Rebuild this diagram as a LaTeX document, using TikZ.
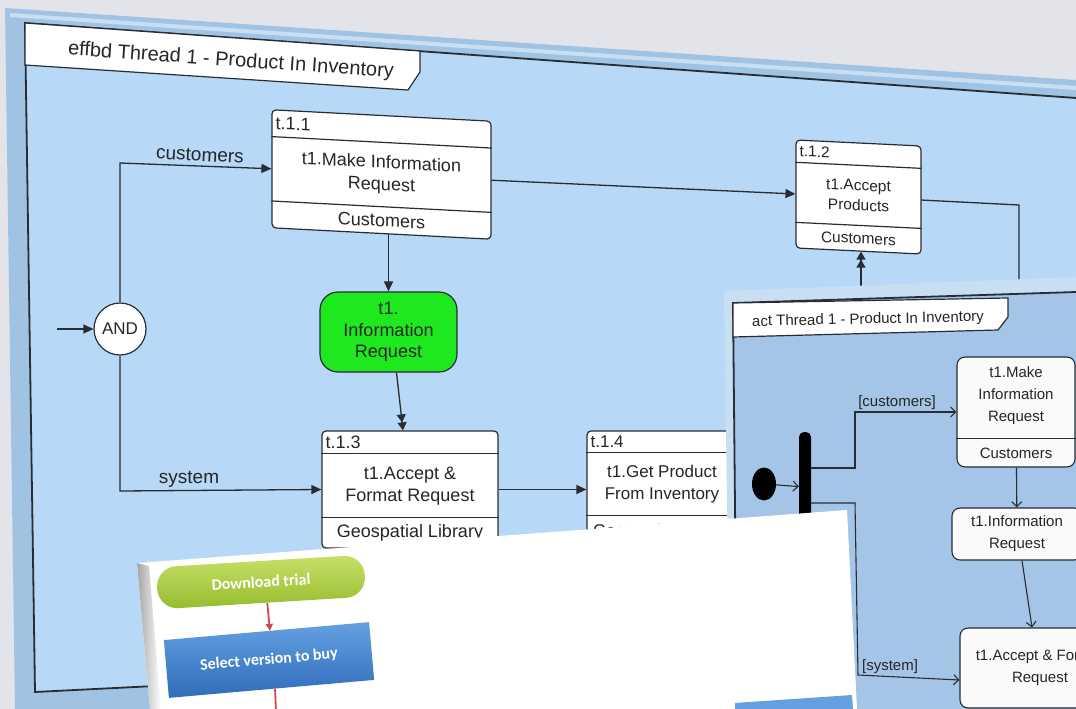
\documentclass[tikz,border=0pt]{standalone}
\usepackage{fontspec}
\setmainfont{Liberation Sans}
\newfontfamily\slidefont{Carlito}
\usetikzlibrary{arrows.meta,calc,shapes.geometric}

\definecolor{deskgray}{RGB}{226,228,233}
\definecolor{framebl}{RGB}{160,195,228}
\definecolor{framehi}{RGB}{200,223,243}
\definecolor{effbdbl}{RGB}{183,216,246}
\definecolor{actbl}{RGB}{164,197,231}
\definecolor{inkgray}{RGB}{40,44,52}
\definecolor{taskgreen}{RGB}{30,232,30}
\definecolor{pillgreenA}{RGB}{200,225,105}
\definecolor{pillgreenB}{RGB}{148,188,45}
\definecolor{slideblA}{RGB}{100,160,225}
\definecolor{slideblB}{RGB}{48,108,185}
\definecolor{arrowred}{RGB}{205,75,75}

\newcommand\fsz[2]{\fontsize{#1}{#2}\selectfont}

\tikzset{
  panel/.style={draw=inkgray, line width=1.8pt},
  tab/.style={fill=white, draw=inkgray, line width=1.2pt},
  taskbox/.style={draw=inkgray, fill=white, line width=1.2pt, rounded corners=4pt, inner sep=0pt},
  sepline/.style={draw=inkgray, line width=1.2pt},
  txt/.style={inner sep=0pt, align=center, text=black!85},
  flow/.style={draw=inkgray, line width=1.3pt, -{Triangle[length=10pt,width=9pt]}},
  dflow/.style={draw=inkgray, line width=1.3pt, -{Triangle[length=8pt,width=9pt]Triangle[length=8pt,width=9pt]}},
  plain/.style={draw=inkgray, line width=1.3pt},
  actflow/.style={draw=inkgray, line width=1.1pt, -{Straight Barb[length=5pt,width=10pt]}},
  actbox/.style={draw=inkgray, fill=white!96!gray, line width=1.1pt, rounded corners=8pt, inner sep=0pt, txt, font=\fsz{15}{22}},
  slidebox/.style={inner sep=0pt, text=white, font=\slidefont\bfseries\fsz{16}{19}},
  redflow/.style={draw=arrowred, line width=1.8pt, -{Triangle[length=7pt,width=7pt]}},
}

\begin{document}
\begin{tikzpicture}[x=1pt,y=-1pt]
  \useasboundingbox (0,0) rectangle (1076,709);
  \clip (0,0) rectangle (1076,709);
  \fill[deskgray] (0,0) rectangle (1076,709);

  % one task box: separators and its three rows of text
  \def\taskrows#1#2#3#4#5#6#7#8{%
    \pgfmathsetmacro\rowid{#3/2}%
    \pgfmathsetmacro\rowname{(#3+#4)/2}%
    \pgfmathsetmacro\rowres{(#4+1)/2}%
    \draw[sepline] ($(#1.north west)!#3!(#1.south west)$) -- ($(#1.north east)!#3!(#1.south east)$);
    \draw[sepline] ($(#1.north west)!#4!(#1.south west)$) -- ($(#1.north east)!#4!(#1.south east)$);
    \node[txt, font=#8, yslant=#2, anchor=west] (#1id) at ($(#1.north west)!\rowid!(#1.south west)+(4,0)$) {#5};
    \node[txt, font=#8, yslant=#2] (#1name) at ($(#1.north)!\rowname!(#1.south)$) {#6};
    \node[txt, font=#8, yslant=#2] (#1res) at ($(#1.north)!\rowres!(#1.south)$) {#7};
  }

  % effbd window
  \fill[framebl] (5,8) -- (1076,80) -- (1076,709) -- (15,709) -- cycle;
  \draw[framehi, line width=4pt] (10,15) -- (1076,88);
  \fill[effbdbl] (25,23) -- (1076,98) -- (1076,640) -- (35,692) -- cycle;
  \draw[panel] (1076,98) -- (25,23) -- (35,692) -- (1076,640);
  \draw[tab] (25,23) -- (420,51) -- (420,72) -- (408,90) -- (25,65) -- cycle;
  \node[txt, font=\fsz{20}{24}, rotate=-4] (effbdtitle) at (231,61) {effbd Thread 1 - Product In Inventory};

  \node[circle, draw=inkgray, fill=white, line width=1.2pt, minimum size=52, inner sep=0pt, txt, font=\fsz{17}{20}] (and) at (120,329) {AND};
  \coordinate (entry) at (57,329);
  \coordinate (custbend) at (120,163);
  \coordinate (sysbend) at (120,491);

  \node[taskbox, yslant=-.052, minimum width=219, minimum height=118] (t11) at (381.5,174.5) {};
  \taskrows{t11}{-.052}{.23}{.77}{t.1.1}{t1.Make Information\\Request}{Customers}{\fsz{18}{22}}
  \node[taskbox, yslant=-.048, minimum width=125, minimum height=108] (t12) at (858.5,197) {};
  \taskrows{t12}{-.048}{.21}{.76}{t.1.2}{t1.Accept\\Products}{Customers}{\fsz{15.5}{20}}
  \node[taskbox, minimum width=176, minimum height=117] (t13) at (410,489.5) {};
  \taskrows{t13}{0}{.195}{.74}{t.1.3}{t1.Accept \&\\Format Request}{Geospatial Library}{\fsz{18}{22}}
  \node[taskbox, minimum width=150, minimum height=117] (t14) at (662,489.5) {};
  \taskrows{t14}{0}{.19}{.72}{t.1.4}{t1.Get Product\\From Inventory}{Geospatial Library}{\fsz{17}{22}}

  \node[draw=inkgray, fill=taskgreen, line width=1.2pt, rounded corners=18pt, minimum width=137, minimum height=80, inner sep=0pt, txt, font=\fsz{18}{21.5}] (infreq) at (388.5,332) {t1.\\Information\\Request};

  \draw[flow] (entry) -- (and);
  \draw[flow] (and) -- (custbend) -- (t11.west);
  \draw[flow] (and) -- (sysbend) -- (t13.west);
  \node[txt, font=\fsz{19}{22}, rotate=-3] (custlbl) at (200,155) {customers};
  \node[txt, font=\fsz{19}{22}] (syslbl) at (189,479) {system};
  \draw[flow] (t11.south -| infreq.north) -- (infreq.north);
  \draw[dflow] ([xshift=8]infreq.south) -- ([xshift=-7]t13.north);
  \draw[flow] (t11.east) -- (t12.west);
  \coordinate (retbend) at (1019,205);
  \coordinate (retdrop) at (1019,300);
  \draw[plain] (t12.east) -- (retbend) -- (retdrop);
  \coordinate (recvfoot) at (861,300);
  \draw[dflow] (recvfoot) -- ([xshift=2.5]t12.south);
  \draw[flow] (t13.east) -- (t14.west);

  % act window
  \fill[framehi] (724,291) -- (1076,277) -- (1076,709) -- (730,709) -- cycle;
  \fill[actbl] (733,303) -- (1076,292) -- (1076,709) -- (737,709) -- cycle;
  \draw[panel] (1076,292) -- (733,303) -- (737,709);
  \draw[tab] (733,303) -- (1008,298) -- (1008,317) -- (998,330) -- (733,337) -- cycle;
  \node[txt, font=\fsz{15}{18}, rotate=1.2] (acttitle) at (868,320) {act Thread 1 - Product In Inventory};

  \node[ellipse, fill=black, minimum width=24, minimum height=33, inner sep=0pt] (init) at (764,484) {};
  \node[fill=black, rounded corners=5pt, minimum width=12, minimum height=110, inner sep=0pt] (fork) at (805,487) {};
  \node[actbox, minimum width=118, minimum height=110] (ab1) at (1016,412) {};
  \draw[sepline, line width=1.1pt] ($(ab1.north west)!.735!(ab1.south west)$) -- ($(ab1.north east)!.735!(ab1.south east)$);
  \node[txt, font=\fsz{15}{22}] (ab1name) at (1016,396) {t1.Make\\Information\\Request};
  \node[txt, font=\fsz{15}{22}] (ab1res) at (1016,453) {Customers};
  \node[actbox, minimum width=130, minimum height=52] (ab2) at (1017,534) {t1.Information\\Request};
  \node[actbox, minimum width=160, minimum height=80] (ab3) at (1040,668) {t1.Accept \& Format\\Request};

  \coordinate (cbend) at (855,468);
  \coordinate (cup) at (855,412);
  \coordinate (sbend) at (855,503);
  \coordinate (sdown) at (858,675);
  \draw[actflow] (init) -- (fork);
  \draw[actflow] ([yshift=19]fork.east) -- (cbend) -- (cup) -- (ab1.west);
  \draw[actflow] ([yshift=-16]fork.east) -- (sbend) -- (sdown) -- ([yshift=-12]ab3.west);
  \node[txt, font=\fsz{15}{18}] (custguard) at (897,403) {[customers]};
  \node[txt, font=\fsz{15}{18}] (sysguard) at (890,667) {[system]};
  \draw[actflow] (ab1) -- (ab2);
  \draw[actflow] ([xshift=5]ab2.south) -- ([xshift=-8]ab3.north);

  % slide on top
  \fill[white] (137,563) -- (847,510) -- (857,709) -- (150,709) -- cycle;
  \shade[left color=gray!70, right color=white] (137,563) -- (149,566) -- (161,709) -- (150,709) -- cycle;
  \node[slidebox, rounded corners=20pt, minimum width=208, minimum height=42, top color=pillgreenA, bottom color=pillgreenB, rotate=3.5] (trial) at (261,582) {Download trial};
  \node[slidebox, minimum width=206, minimum height=58, top color=slideblA, bottom color=slideblB, rotate=5] (buyver) at (269,660) {Select version to buy};
  \draw[redflow] ([xshift=5]trial.south) -- ([xshift=3.5]buyver.north);
  \coordinate (buyout) at (276,712);
  \draw[redflow, -] ([xshift=3.5]buyver.south) -- (buyout);
  \fill[slideblA] (735,703) -- (852,695) -- (853,709) -- (735,709) -- cycle;
\end{tikzpicture}
\end{document}
